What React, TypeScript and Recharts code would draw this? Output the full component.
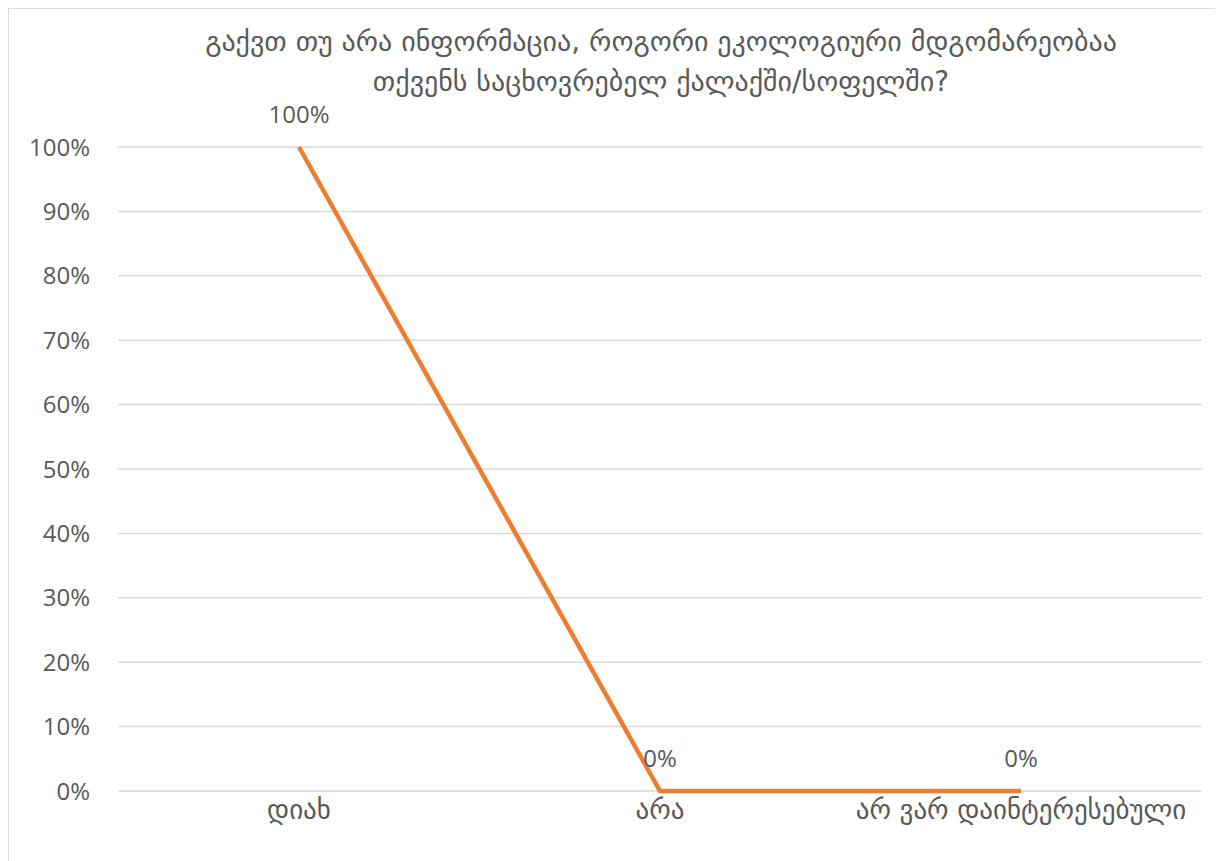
import { LineChart, Line, XAxis, YAxis, CartesianGrid, LabelList } from 'recharts'

// answers to the survey question, share of respondents in %
const categories = ['დიახ', 'არა', 'არ ვარ დაინტერესებული']
const shares = [100, 0, 0]
const yTicks = [0, 10, 20, 30, 40, 50, 60, 70, 80, 90, 100]
const titleLines = [
  'გაქვთ თუ არა ინფორმაცია, როგორი ეკოლოგიური მდგომარეობაა',
  'თქვენს საცხოვრებელ ქალაქში/სოფელში?',
]

const data = categories.map((name, i) => ({ name, value: shares[i] }))

const textColor = '#595959'
const latinFont = '"Open Sans", "DejaVu Sans", sans-serif'
const georgianFont = '"DejaVu Sans", sans-serif'

export default function App() {
  return (
    <div
      style={{
        position: 'relative',
        width: 1230,
        height: 870,
        border: '1px solid #d9d9d9',
        background: '#fff',
      }}
    >
      <div
        style={{
          position: 'absolute',
          left: 110,
          width: 1084,
          top: 13,
          textAlign: 'center',
          fontFamily: georgianFont,
          fontSize: 28,
          lineHeight: '40px',
          color: textColor,
        }}
      >
        {titleLines.map((t) => (
          <div key={t}>{t}</div>
        ))}
      </div>
      <LineChart width={1230} height={870} data={data} margin={{ top: 138, right: 37, bottom: 28, left: 0 }}>
        <CartesianGrid vertical={false} stroke="#d9d9d9" strokeWidth={1.5} />
        <XAxis
          dataKey="name"
          axisLine={false}
          tickLine={false}
          tickSize={0}
          tickMargin={9}
          height={60}
          padding={{ left: 181, right: 181 }}
          tick={{ fill: textColor, fontSize: 27, fontFamily: georgianFont }}
        />
        <YAxis
          domain={[0, 100]}
          ticks={yTicks}
          tickFormatter={(v) => `${v}%`}
          axisLine={false}
          tickLine={false}
          tickSize={0}
          tickMargin={28}
          width={109}
          tick={{ fill: textColor, fontSize: 24, fontFamily: latinFont }}
        />
        <Line
          type="linear"
          dataKey="value"
          stroke="#ED7D31"
          strokeWidth={4.5}
          dot={false}
          isAnimationActive={false}
        >
          <LabelList
            dataKey="value"
            position="top"
            offset={24}
            formatter={(v) => `${v}%`}
            style={{ fill: textColor, fontSize: 24, fontFamily: latinFont }}
          />
        </Line>
      </LineChart>
    </div>
  )
}
